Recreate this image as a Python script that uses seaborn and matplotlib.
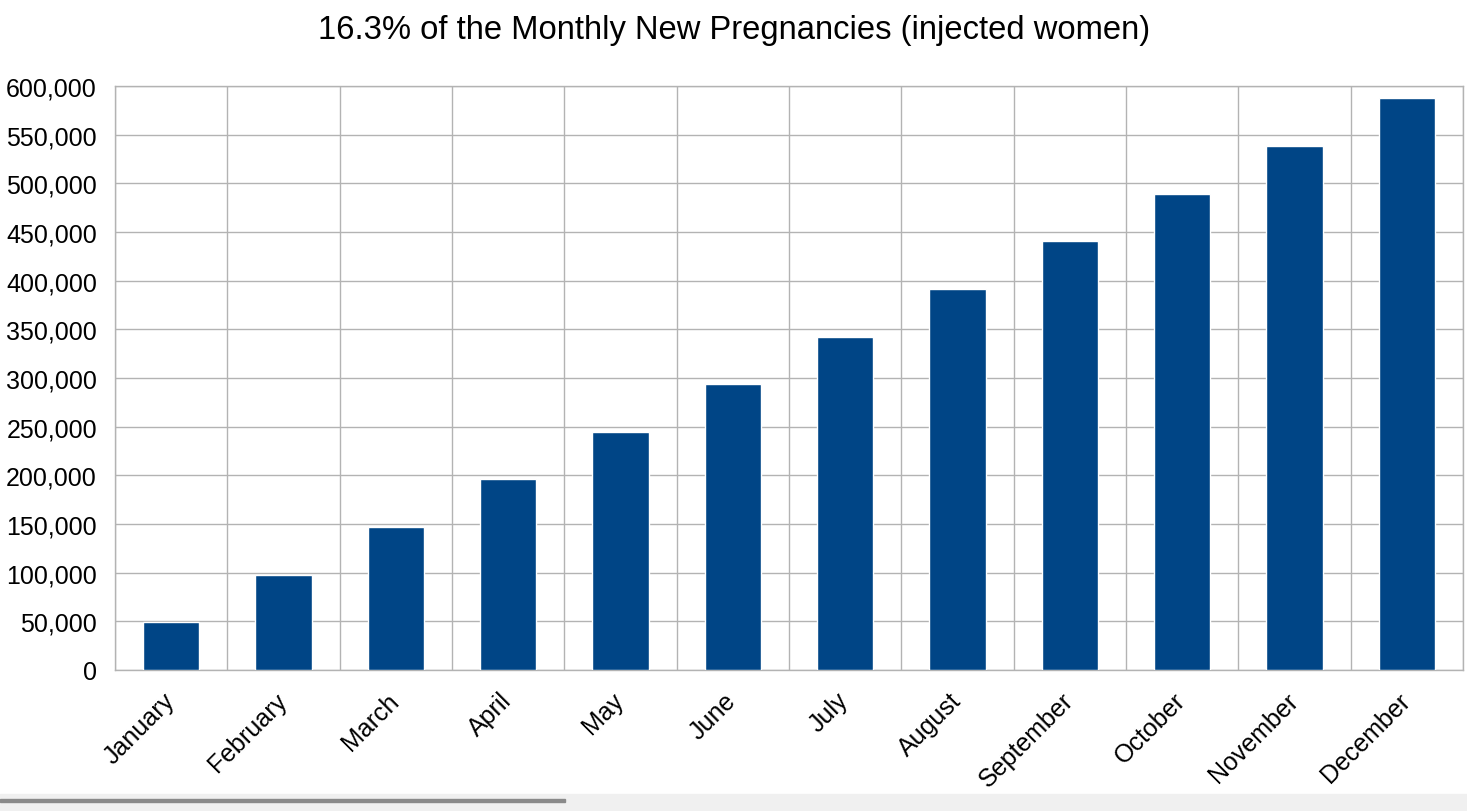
import matplotlib
matplotlib.use("Agg")
import matplotlib.pyplot as plt
import matplotlib.ticker as mticker
import matplotlib.transforms as mtransforms
import seaborn as sns
import pandas as pd
import numpy as np

months = ["January", "February", "March", "April", "May", "June",
          "July", "August", "September", "October", "November", "December"]
pregnancies = [48900, 97900, 146800, 195800, 244700, 293700,
               342600, 391600, 440500, 489500, 538400, 587400]
y_ticks = list(range(0, 600001, 50000))

df = pd.DataFrame({"month": months, "value": pregnancies})

sns.set_theme(style="white")
plt.rcParams["font.family"] = ["Liberation Sans", "DejaVu Sans"]
plt.rcParams["text.color"] = "black"

grid_color = "#b3b3b3"

fig = plt.figure(figsize=(14.67, 8.12), dpi=100)
ax = fig.add_axes([115 / 1467, 1 - 671 / 812, (1463 - 115) / 1467, (671 - 87) / 812])

sns.barplot(data=df, x="month", y="value", color="#004586", width=0.5,
            saturation=1, ax=ax, zorder=3)

ax.set_xlim(-0.5, len(months) - 0.5)
ax.set_ylim(0, 600000)
ax.set_yticks(y_ticks)
ax.yaxis.set_major_formatter(mticker.FuncFormatter(lambda v, p: f"{int(v):,}"))

# category boundaries get the vertical grid and the tick marks
ax.set_xticks(np.arange(-0.5, len(months)), minor=True)
ax.tick_params(axis="x", which="major", length=0, pad=13, labelcolor="black")
ax.tick_params(axis="x", which="minor", length=11, width=1, color=grid_color, direction="out")
ax.tick_params(axis="y", length=11, width=1, color=grid_color, direction="out",
               labelsize=18, pad=2, labelcolor="black")
ax.set_xticklabels(months, rotation=45, ha="right", rotation_mode="anchor", fontsize=18)
shift = mtransforms.ScaledTranslation(-9 / 100, 0, fig.dpi_scale_trans)
for lbl in ax.get_xticklabels():
    lbl.set_transform(lbl.get_transform() + shift)

ax.grid(True, axis="y", color=grid_color, linewidth=1, zorder=0)
ax.grid(True, axis="x", which="minor", color=grid_color, linewidth=1, zorder=0)
ax.set_axisbelow(True)
for s in ax.spines.values():
    s.set_color(grid_color)
    s.set_linewidth(1)

ax.set_xlabel("")
ax.set_ylabel("")
fig.suptitle("16.3% of the Monthly New Pregnancies (injected women)",
             fontsize=23.6, y=1 - 30 / 812, va="center", x=734 / 1467, color="black")

# screenshot scrollbar strip at the bottom
fig.patches.append(plt.Rectangle((0, 0), 1, 17 / 812, transform=fig.transFigure,
                                 color="#f0f0f0", zorder=0))
fig.patches.append(plt.Rectangle((0, 9 / 812), 565 / 1467, 3 / 812, transform=fig.transFigure,
                                 color="#8a8a8a", zorder=1))

fig.savefig("out.png", dpi=100)
